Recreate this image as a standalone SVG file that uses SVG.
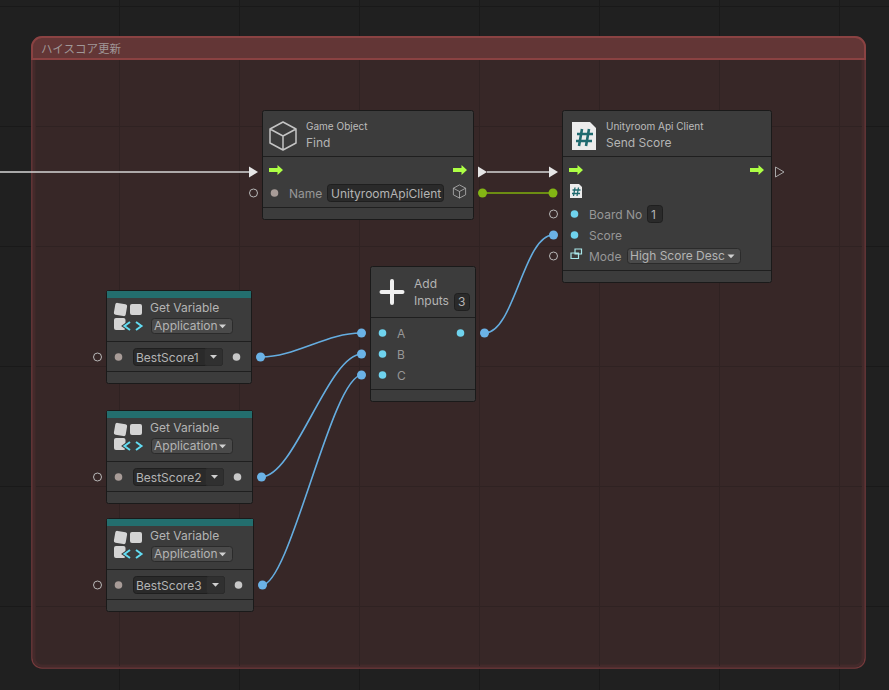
<svg xmlns="http://www.w3.org/2000/svg" width="889" height="690" viewBox="0 0 889 690">
<style>
text{font-family:Inter,"Noto Sans CJK JP","Noto Sans",sans-serif;fill:#b4b4b4;font-size:12px}
.sm{font-size:10px;fill:#bcbcbc}
.lb{fill:#979797}
.card{fill:#3c3c3c;stroke:#1a1a1a;stroke-width:1}
.sep{stroke:#1f1f1f;stroke-width:1;fill:none}
.fld{fill:#2a2a2a;stroke:#1f1f1f}
.dd{fill:#4a4a4a;stroke:#2b2b2b}
.ddb{fill:#303030;stroke:#2b2b2b}
.ring{fill:none;stroke:#b8b8b8;stroke-width:1}
.wire{fill:none;stroke:#65ade0;stroke-width:1.6}
.wp{fill:#6bb2e6}
.dc{fill:#6fd3ee}
.dg{fill:#a89c98}
.dw{fill:#c8c8c8}
.icn{fill:none;stroke:#c4c4c4;stroke-width:1.5;stroke-linejoin:round}
.tile{fill:#d4d4d4}
.grid{stroke:#191919;stroke-width:1;fill:none}
.gridin{stroke:#2f2222;stroke-width:1;fill:none}
</style>
<defs>
<path id="flow" d="M0 -2H8.500V-5L14 0L8.500 5V2H0Z" fill="#adff45"/>
<path id="tri" d="M0 -5.500L9 0L0 5.500Z" fill="#e6e6e6"/>
<g id="varicon">
<rect class="tile" x="1.500" y="1.500" width="12" height="12" rx="2" transform="rotate(10 7.500 7.500)"/>
<rect class="tile" x="17" y="2" width="12" height="11" rx="2"/>
<rect class="tile" x="1" y="16" width="11.500" height="12" rx="2"/>
<path d="M17 20L11.500 24L17 28M23 20L28.500 24L23 28" fill="none" stroke="#3c3c3c" stroke-width="4"/>
<path d="M17 20L11.500 24L17 28M23 20L28.500 24L23 28" fill="none" stroke="#62dcf2" stroke-width="2"/>
</g>
<path id="caret" d="M0 0H7L3.500 3.800Z" fill="#d0d0d0"/>
<g id="cube"><path class="icn" d="M0 -14L13 -7V7L0 14L-13 7V-7ZM-13 -7L0 0L13 -7M0 0V14"/></g>
<g id="cs"><path d="M0 0H18L24 6V28H0Z" fill="#ececec"/><path d="M10 7L7 24M17 7L14 24M5 12H21M4 19H20" stroke="#1f6a6f" stroke-width="2.600" fill="none"/></g>
</defs>
<rect width="889" height="690" fill="#202020"/>
<path class="grid" d="M119.500 0V690M239.500 0V690M359.500 0V690M479.500 0V690M599.500 0V690M719.500 0V690M839.500 0V690M0 6.500H889M0 126.500H889M0 246.500H889M0 366.500H889M0 486.500H889M0 606.500H889"/>
<g id="group">
<rect x="32" y="37" width="833" height="631" rx="10" fill="#372727" stroke="#763a3c" stroke-width="1.500"/>
<rect x="34" y="39" width="829" height="627" rx="8" fill="none" stroke="#432a2b" stroke-width="3"/>
<path class="gridin" d="M119.500 60V666M239.500 60V666M359.500 60V666M479.500 60V666M599.500 60V666M719.500 60V666M839.500 60V666M36 126.500H862M36 246.500H862M36 366.500H862M36 486.500H862M36 606.500H862"/>
<path d="M32 59V47a10 10 0 0 1 10-10H855a10 10 0 0 1 10 10V59Z" fill="#633636" stroke="#8a4242" stroke-width="2"/>
<text x="41" y="53" style="font-size:11.500px;fill:#a09898">ハイスコア更新</text>
</g>
<g id="connectors">
<path d="M0 172H250" stroke="#d6d6d6" stroke-width="1.600" fill="none"/>
<use href="#tri" x="249" y="172"/>
<path d="M487 172H550" stroke="#d6d6d6" stroke-width="1.600" fill="none"/>
<use href="#tri" x="478" y="172"/><use href="#tri" x="549" y="172"/>
<path d="M483 193H553" stroke="#7fb00e" stroke-width="1.600" fill="none"/>
<circle cx="482.500" cy="193" r="4.500" fill="#83b514"/><circle cx="553" cy="193" r="4.500" fill="#83b514"/>
<path class="wire" d="M261 357C295 357 327 333 361 333"/>
<path class="wire" d="M261 477C295 477 328 354 362 354"/>
<path class="wire" d="M262 585C290 585 332 375 362 375"/>
<path class="wire" d="M485 333C514 333 524 235 553 235"/>
<g class="wp">
<circle cx="260.500" cy="357" r="4.500"/><circle cx="361.500" cy="333" r="4.500"/>
<circle cx="261.500" cy="477" r="4.500"/><circle cx="361.500" cy="354" r="4.500"/>
<circle cx="262.500" cy="585" r="4.500"/><circle cx="361.500" cy="375" r="4.500"/>
<circle cx="484.500" cy="333" r="4.500"/><circle cx="553.500" cy="235" r="4.500"/>
</g>
</g>
<g id="node-find">
<rect class="card" x="262.500" y="110.500" width="211" height="109" rx="2"/>
<path class="sep" d="M263 156.500H473M263 207.500H473"/>
<use href="#cube" x="283" y="136"/>
<text class="sm" x="306" y="130">Game Object</text>
<text x="306" y="147">Find</text>
<use href="#flow" x="269" y="170"/><use href="#flow" x="453" y="170"/>
<circle class="ring" cx="253.500" cy="193" r="4"/>
<circle class="dg" cx="274.500" cy="193" r="3.800"/>
<text class="lb" x="289" y="197.500">Name</text>
<rect class="fld" x="327.500" y="184.500" width="116" height="17" rx="3"/>
<text x="331" y="197.500">UnityroomApiClient</text>
<g transform="translate(459.500 191.500) scale(.47)"><use href="#cube"/></g>
</g>
<g id="node-send-score">
<rect class="card" x="562.500" y="110.500" width="209" height="172" rx="2"/>
<path class="sep" d="M563 156.500H771M563 270.500H771"/>
<use href="#cs" x="572" y="122"/>
<text class="sm" x="606" y="130">Unityroom Api Client</text>
<text x="606" y="147">Send Score</text>
<use href="#flow" x="569" y="170"/><use href="#flow" x="750" y="170"/>
<path d="M775.500 167L784 172L775.500 177Z" fill="none" stroke="#a8a8a8"/>
<g transform="translate(570 184) scale(.5)"><use href="#cs"/></g>
<circle class="ring" cx="553.500" cy="214" r="4"/>
<circle class="ring" cx="553.500" cy="256" r="4"/>
<circle class="dc" cx="574.500" cy="214" r="3.800"/>
<circle class="dc" cx="574.500" cy="235" r="3.800"/>
<path d="M575 249h6.500v5h-6.500zM571 253h7.500v5.500h-7.500z" fill="#3c3c3c" stroke="#a9e7ea" stroke-width="1.200"/>
<text class="lb" x="589" y="218.500">Board No</text>
<rect class="fld" x="647.500" y="205.500" width="15" height="17" rx="3"/>
<text x="651" y="218.500">1</text>
<text class="lb" x="589" y="239.500">Score</text>
<text class="lb" x="589" y="260.500">Mode</text>
<rect class="dd" x="627.500" y="248.500" width="113" height="15" rx="3"/>
<text x="630" y="260">High Score Desc</text>
<use href="#caret" x="727.500" y="254.500"/>
</g>
<g id="node-add">
<rect class="card" x="370.500" y="266.500" width="105" height="135" rx="2"/>
<path class="sep" d="M371 317.500H475M371 389.500H475"/>
<path d="M392 281V303M381.500 292H402.500" stroke="#f0f0f0" stroke-width="4" stroke-linecap="round"/>
<text x="414" y="288">Add</text>
<text x="414" y="305">Inputs</text>
<rect class="fld" x="454.500" y="293.500" width="15" height="17" rx="3"/>
<text x="458" y="306">3</text>
<circle class="dc" cx="382.500" cy="333" r="3.800"/><circle class="dc" cx="382.500" cy="354" r="3.800"/><circle class="dc" cx="382.500" cy="375" r="3.800"/><circle class="dc" cx="460.500" cy="333" r="3.800"/>
<text class="lb" x="397" y="337.500">A</text><text class="lb" x="397" y="358.500">B</text><text class="lb" x="397" y="379.500">C</text>
</g>
<g id="node-get1">
<rect class="card" x="106.500" y="290.500" width="145" height="93" rx="2"/>
<rect x="107" y="291" width="144" height="7" fill="#236e6e"/>
<path class="sep" d="M107 341.500H251M107 371.500H251"/>
<use href="#varicon" x="113" y="302"/>
<text x="150" y="312">Get Variable</text>
<rect class="dd" x="151.500" y="318.500" width="81" height="15" rx="3"/>
<text x="154" y="330">Application</text><use href="#caret" x="219" y="324.500"/>
<circle class="ring" cx="97.500" cy="357" r="4"/>
<circle class="dg" cx="118.500" cy="357" r="3.800"/>
<rect class="fld" x="133.500" y="348.500" width="89" height="17" rx="3"/>
<rect class="ddb" x="204.500" y="348.500" width="18" height="17" rx="2"/>
<text x="136" y="361.500">BestScore1</text><use href="#caret" x="210" y="355"/>
<circle class="dw" cx="236.500" cy="357" r="3.800"/>
</g>
<g id="node-get2">
<rect class="card" x="106.500" y="410.500" width="146" height="93" rx="2"/>
<rect x="107" y="411" width="145" height="7" fill="#236e6e"/>
<path class="sep" d="M107 461.500H252M107 491.500H252"/>
<use href="#varicon" x="113" y="422"/>
<text x="150" y="432">Get Variable</text>
<rect class="dd" x="151.500" y="438.500" width="81" height="15" rx="3"/>
<text x="154" y="450">Application</text><use href="#caret" x="219" y="444.500"/>
<circle class="ring" cx="97.500" cy="477" r="4"/>
<circle class="dg" cx="118.500" cy="477" r="3.800"/>
<rect class="fld" x="133.500" y="468.500" width="90" height="17" rx="3"/>
<rect class="ddb" x="205.500" y="468.500" width="18" height="17" rx="2"/>
<text x="136" y="481.500">BestScore2</text><use href="#caret" x="211" y="475"/>
<circle class="dw" cx="237.500" cy="477" r="3.800"/>
</g>
<g id="node-get3">
<rect class="card" x="106.500" y="518.500" width="147" height="93" rx="2"/>
<rect x="107" y="519" width="146" height="7" fill="#236e6e"/>
<path class="sep" d="M107 569.500H253M107 599.500H253"/>
<use href="#varicon" x="113" y="530"/>
<text x="150" y="540">Get Variable</text>
<rect class="dd" x="151.500" y="546.500" width="81" height="15" rx="3"/>
<text x="154" y="558">Application</text><use href="#caret" x="219" y="552.500"/>
<circle class="ring" cx="97.500" cy="585" r="4"/>
<circle class="dg" cx="118.500" cy="585" r="3.800"/>
<rect class="fld" x="133.500" y="576.500" width="91" height="17" rx="3"/>
<rect class="ddb" x="206.500" y="576.500" width="18" height="17" rx="2"/>
<text x="136" y="589.500">BestScore3</text><use href="#caret" x="212" y="583"/>
<circle class="dw" cx="238.500" cy="585" r="3.800"/>
</g>
</svg>
